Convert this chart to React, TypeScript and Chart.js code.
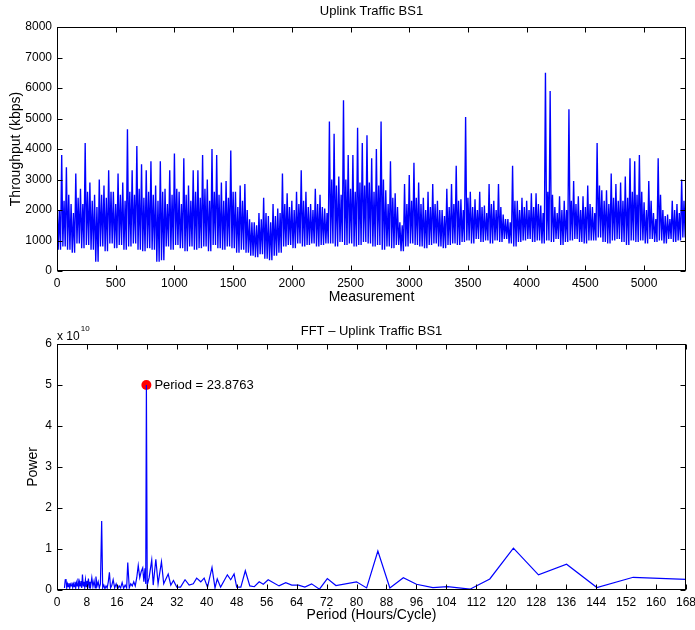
import React, { useEffect, useRef } from 'react';
import { Chart, registerables } from 'chart.js';
Chart.register(...registerables);

const FONT = '"Liberation Sans", Arial, Helvetica, sans-serif';

// ---------- Top chart: Uplink traffic (envelope read per 40-measurement segment) ----------
const SEGMENT = 40; // measurements per segment
const measurementMax = 5357;
const topXTicks = [0, 500, 1000, 1500, 2000, 2500, 3000, 3500, 4000, 4500, 5000];
// segment maxima (spikes)
const trafficHigh = [
  2300, 3800, 3400, 2200, 3200, 2700, 4200, 2900, 2500, 3000,
  2800, 3300, 2600, 3200, 2900, 4650, 3300, 4100, 3500, 3300,
  3600, 2800, 3600, 2700, 3300, 3850, 2600, 3700, 2800, 3300,
  3300, 3800, 3000, 4000, 3800, 2900, 2950, 3950, 2600, 2800,
  2850, 1700, 1600, 1900, 2400, 1800, 2200, 2050, 3200, 2550,
  2300, 2600, 3300, 2600, 2200, 2700, 2500, 2050, 4900, 4500,
  3100, 5600, 3800, 3800, 4700, 4200, 4450, 3700, 4000, 4900,
  2650, 3600, 2550, 1600, 2850, 3150, 3550, 2900, 2400, 2600,
  2850, 2300, 2000, 2700, 2850, 3450, 2350, 5050, 2600, 2350,
  2600, 2150, 2850, 2300, 2850, 1850, 1700, 3450, 2300, 2400,
  2300, 2550, 2550, 2150, 6500, 5900, 2100, 2450, 2300, 5300,
  2950, 2450, 2450, 2800, 2100, 4200, 2650, 2650, 3200, 2850,
  2900, 3100, 3700, 3600, 3800, 2250, 2950, 1900, 3700, 2000,
  1850, 2300, 2200, 3000, 3550,
];
// upper edge of the dense core of each segment
const trafficCore = [
  2000, 2300, 2500, 1900, 2400, 2200, 2600, 2300, 2100, 2500,
  2400, 2600, 2200, 2500, 2300, 2600, 2500, 2700, 2400, 2600,
  2500, 2300, 2600, 2200, 2500, 2700, 2200, 2500, 2300, 2600,
  2400, 2700, 2300, 2600, 2500, 2300, 2400, 2600, 2100, 2300,
  2000, 1600, 1500, 1700, 1900, 1600, 1800, 1900, 2200, 2100,
  2000, 2200, 2300, 2100, 2000, 2200, 2100, 1900, 3000, 2800,
  2500, 3000, 2700, 2600, 2900, 2800, 2900, 2600, 2800, 3000,
  2200, 2400, 2100, 1500, 2200, 2300, 2400, 2200, 2000, 2100,
  2200, 2000, 1800, 2100, 2200, 2300, 2000, 2400, 2100, 2000,
  2100, 1900, 2200, 2000, 2100, 1700, 1600, 2300, 2000, 2100,
  2000, 2100, 2200, 1900, 2600, 2500, 1900, 2000, 2000, 2300,
  2200, 2000, 2100, 2200, 1900, 2800, 2300, 2200, 2400, 2300,
  2300, 2400, 2600, 2500, 2600, 2000, 2300, 1700, 2500, 1800,
  1700, 2000, 1900, 2300, 2500,
];
// segment minima
const trafficLow = [
  700, 800, 700, 600, 900, 750, 850, 700, 300, 800,
  650, 900, 750, 850, 700, 800, 900, 700, 650, 750,
  700, 300, 350, 800, 700, 850, 750, 650, 800, 700,
  750, 800, 650, 850, 750, 700, 800, 750, 600, 700,
  600, 500, 450, 550, 400, 350, 500, 600,
  800, 850, 750, 900, 800, 850, 900, 800, 850, 900,
  900, 800, 950, 850, 900, 800, 850, 950, 900, 800, 850, 700, 800, 750, 850,
  650, 800, 900, 850, 800, 750, 850, 900, 800, 750, 850, 900, 850,
  950, 1000, 900, 1050, 950, 1000, 900, 1000, 950, 1050,
  900, 800, 950, 1000, 1050, 950, 1000, 900, 1000, 950,
  1050, 850, 950, 1000, 1050, 950, 900, 1000, 1000, 1100,
  950, 900, 1000, 1050, 950, 850, 1000, 950, 1000, 900,
  1050, 950, 1000, 900, 1050, 950, 1000, 1100, 1050,
];

// ---------- Bottom chart: FFT power vs period ----------
const fftPeriod = [
  2.0, 2.2, 2.4, 2.6, 2.8, 3.0, 3.2, 3.4, 3.6, 3.8,
  4.0, 4.2, 4.4, 4.6, 4.8, 5.0, 5.2, 5.4, 5.6, 5.8,
  6.0, 6.2, 6.4, 6.6, 6.8, 7.0, 7.2, 7.4, 7.6, 7.8,
  8.0, 8.2, 8.4, 8.6, 8.8, 9.0, 9.3, 9.6, 9.9, 10.2,
  10.4, 10.7, 11.0, 11.3, 11.6, 11.93, 12.2, 12.5, 12.8, 13.1,
  13.4, 13.7, 14.0, 14.3, 14.6, 15.0, 15.4, 15.8, 16.2, 16.6,
  17.0, 17.4, 17.8, 18.2, 18.6, 18.9, 19.3, 19.7, 20.1, 20.5,
  20.9, 21.3, 21.7, 22.1, 22.5, 22.9, 23.2, 23.5, 23.7, 23.8763,
  24.1, 24.6, 25.3, 25.7, 26.4, 27.0, 27.9, 28.5, 29.7, 30.4,
  31.1, 32.0, 33.0, 34.2, 35.3, 36.4, 37.3, 38.4, 39.3, 40.2,
  41.4, 42.2, 42.8, 43.7, 45.5, 46.4, 47.3, 48.0, 49.1, 50.3,
  51.5, 52.7, 54.0, 55.1, 56.4, 59.3, 61.1, 62.7, 64.5, 66.2,
  68.0, 70.1, 72.2, 74.5, 80.0, 82.7, 85.7, 88.9, 92.5, 96.0,
  100.4, 104.3, 110.3, 115.6, 121.9, 128.6, 136.1, 144.2, 153.9, 168.0,
];
const fftPowerE10 = [
  0.05, 0.25, 0.27, 0.05, 0.15, 0.08, 0.17, 0.05, 0.14, 0.10,
  0.18, 0.06, 0.15, 0.08, 0.20, 0.05, 0.18, 0.10, 0.28, 0.06,
  0.20, 0.10, 0.22, 0.05, 0.38, 0.10, 0.20, 0.06, 0.25, 0.08,
  0.22, 0.12, 0.28, 0.05, 0.20, 0.10, 0.30, 0.08, 0.22, 0.05,
  0.33, 0.10, 0.20, 0.05, 0.15, 1.68, 0.05, 0.12, 0.03, 0.10,
  0.05, 0.20, 0.43, 0.05, 0.10, 0.25, 0.05, 0.15, 0.03, 0.10,
  0.05, 0.18, 0.04, 0.12, 0.05, 0.67, 0.05, 0.15, 0.10, 0.20,
  0.10, 0.30, 0.60, 0.30, 0.45, 0.54, 0.20, 0.53, 0.15, 5.00,
  0.12, 0.30, 0.73, 0.12, 0.75, 0.15, 0.69, 0.15, 0.39, 0.12,
  0.23, 0.07, 0.07, 0.25, 0.12, 0.15, 0.29, 0.20, 0.29, 0.07,
  0.55, 0.05, 0.27, 0.07, 0.37, 0.25, 0.39, 0.07, 0.07, 0.47,
  0.10, 0.08, 0.20, 0.14, 0.25, 0.10, 0.18, 0.12, 0.12, 0.07,
  0.15, 0.02, 0.28, 0.11, 0.20, 0.05, 0.95, 0.05, 0.30, 0.14,
  0.06, 0.08, 0.02, 0.27, 1.02, 0.37, 0.63, 0.06, 0.31, 0.26,
];
const peakPeriod = 23.8763;
const peakPowerE10 = 5.0;

const BLUE = '#0000ff';

type DecorOpts = {
  title: string;
  titleY: number;
  xLabel: string;
  xLabelY: number;
  yLabel: string;
  yLabelX: number;
  extra?: (chart: any, ctx: CanvasRenderingContext2D) => void;
};

function decor(o: DecorOpts) {
  return {
    id: 'decor',
    afterDraw(chart: any) {
      const { ctx, chartArea: a, scales } = chart;
      const L = Math.round(a.left) + 0.5;
      const R = Math.round(a.right) - 0.5;
      const T = Math.round(a.top) + 0.5;
      const B = Math.round(a.bottom) - 0.5;
      ctx.save();
      ctx.strokeStyle = '#000';
      ctx.lineWidth = 1;
      ctx.strokeRect(L, T, R - L, B - T);
      const tl = 5;
      ctx.beginPath();
      scales.x.ticks.forEach((t: any) => {
        const p = Math.round(scales.x.getPixelForValue(t.value)) + 0.5;
        ctx.moveTo(p, B); ctx.lineTo(p, B - tl);
        ctx.moveTo(p, T); ctx.lineTo(p, T + tl);
      });
      scales.y.ticks.forEach((t: any) => {
        const p = Math.round(scales.y.getPixelForValue(t.value)) + 0.5;
        ctx.moveTo(L, p); ctx.lineTo(L + tl, p);
        ctx.moveTo(R, p); ctx.lineTo(R - tl, p);
      });
      ctx.stroke();
      ctx.fillStyle = '#000';
      ctx.textAlign = 'center';
      ctx.textBaseline = 'middle';
      ctx.font = `13px ${FONT}`;
      ctx.fillText(o.title, (a.left + a.right) / 2, o.titleY);
      ctx.font = `14px ${FONT}`;
      ctx.fillText(o.xLabel, (a.left + a.right) / 2, o.xLabelY);
      ctx.save();
      ctx.translate(o.yLabelX, (a.top + a.bottom) / 2);
      ctx.rotate(-Math.PI / 2);
      ctx.fillText(o.yLabel, 0, 0);
      ctx.restore();
      if (o.extra) o.extra(chart, ctx);
      ctx.restore();
    },
  };
}

const tickFont = { family: FONT, size: 12 };

function topConfig(): any {
  const points: { x: number; y: number }[] = [];
  const q = SEGMENT / 4;
  trafficHigh.forEach((h, i) => {
    const x0 = i * SEGMENT;
    points.push({ x: x0, y: h });
    if (i < trafficLow.length) {
      points.push({ x: x0 + q, y: trafficLow[i] });
      points.push({ x: x0 + 2 * q, y: trafficCore[i] });
      points.push({ x: x0 + 3 * q, y: trafficLow[i] });
    }
  });
  return {
    type: 'line',
    data: {
      datasets: [
        { data: points, borderColor: BLUE, borderWidth: 1.35, pointRadius: 0, tension: 0, fill: false },
      ],
    },
    options: {
      animation: false,
      responsive: false,
      events: [],
      layout: { padding: { top: 27, right: 9, left: 0, bottom: 0 } },
      plugins: { legend: { display: false }, tooltip: { enabled: false } },
      scales: {
        x: {
          type: 'linear', min: 0, max: measurementMax,
          ticks: { font: tickFont, color: '#000', padding: 5, maxRotation: 0, autoSkip: false, callback: (v: any) => String(v) },
          grid: { display: false, drawTicks: false }, border: { display: false },
          afterBuildTicks: (s: any) => { s.ticks = topXTicks.map((v) => ({ value: v })); },
          afterFit: (s: any) => { s.height = 44; s.paddingLeft = 0; s.paddingRight = 0; },
        },
        y: {
          type: 'linear', min: 0, max: 8000,
          ticks: { stepSize: 1000, font: tickFont, color: '#000', padding: 5, callback: (v: any) => String(v) },
          grid: { display: false, drawTicks: false }, border: { display: false },
          afterFit: (s: any) => { s.width = 57; s.paddingTop = 0; s.paddingBottom = 0; },
        },
      },
    },
    plugins: [
      decor({ title: 'Uplink Traffic BS1', titleY: 11, xLabel: 'Measurement', xLabelY: 297, yLabel: 'Throughput (kbps)', yLabelX: 16 }),
    ],
  };
}

function bottomConfig(): any {
  const points = fftPeriod.map((p, i) => ({ x: p, y: fftPowerE10[i] }));
  return {
    type: 'line',
    data: {
      datasets: [
        { data: points, borderColor: BLUE, borderWidth: 1.2, pointRadius: 0, tension: 0, fill: false },
        {
          data: [{ x: peakPeriod, y: peakPowerE10 }], showLine: false, pointRadius: 5,
          pointBackgroundColor: '#ff0000', pointBorderColor: '#ff0000', pointBorderWidth: 0,
        },
      ],
    },
    options: {
      animation: false,
      responsive: false,
      events: [],
      layout: { padding: { top: 29, right: 9, left: 0, bottom: 0 } },
      plugins: { legend: { display: false }, tooltip: { enabled: false } },
      scales: {
        x: {
          type: 'linear', min: 0, max: 168,
          ticks: { stepSize: 8, maxTicksLimit: 30, font: tickFont, color: '#000', padding: 5, maxRotation: 0, autoSkip: false, callback: (v: any) => String(v) },
          grid: { display: false, drawTicks: false }, border: { display: false },
          afterFit: (s: any) => { s.height = 40; s.paddingLeft = 0; s.paddingRight = 0; },
        },
        y: {
          type: 'linear', min: 0, max: 6,
          ticks: { stepSize: 1, font: tickFont, color: '#000', padding: 5, callback: (v: any) => String(v) },
          grid: { display: false, drawTicks: false }, border: { display: false },
          afterFit: (s: any) => { s.width = 57; s.paddingTop = 0; s.paddingBottom = 0; },
        },
      },
    },
    plugins: [
      decor({
        title: 'FFT \u2013 Uplink Traffic BS1', titleY: 16, xLabel: 'Period (Hours/Cycle)', xLabelY: 300, yLabel: 'Power', yLabelX: 33,
        extra: (chart, ctx) => {
          const a = chart.chartArea;
          ctx.textAlign = 'left';
          ctx.textBaseline = 'alphabetic';
          ctx.font = `12px ${FONT}`;
          ctx.fillText('x 10', a.left, 25);
          const w = ctx.measureText('x 10').width;
          ctx.font = `8px ${FONT}`;
          ctx.fillText('10', a.left + w + 1, 16);
          const el = chart.getDatasetMeta(1).data[0];
          ctx.font = `13px ${FONT}`;
          ctx.textBaseline = 'middle';
          ctx.fillText(`Period = ${peakPeriod}`, el.x + 8, el.y);
        },
      }),
    ],
  };
}

export default function App() {
  const topRef = useRef<HTMLCanvasElement>(null);
  const botRef = useRef<HTMLCanvasElement>(null);
  useEffect(() => {
    const c1 = new Chart(topRef.current as HTMLCanvasElement, topConfig());
    const c2 = new Chart(botRef.current as HTMLCanvasElement, bottomConfig());
    return () => { c1.destroy(); c2.destroy(); };
  }, []);
  return (
    <div style={{ position: 'absolute', left: 0, top: 0, width: 695, height: 630, background: '#fff' }}>
      <canvas ref={topRef} width={695} height={315} style={{ position: 'absolute', left: 0, top: 0, width: 695, height: 315 }} />
      <canvas ref={botRef} width={695} height={315} style={{ position: 'absolute', left: 0, top: 315, width: 695, height: 315 }} />
    </div>
  );
}
